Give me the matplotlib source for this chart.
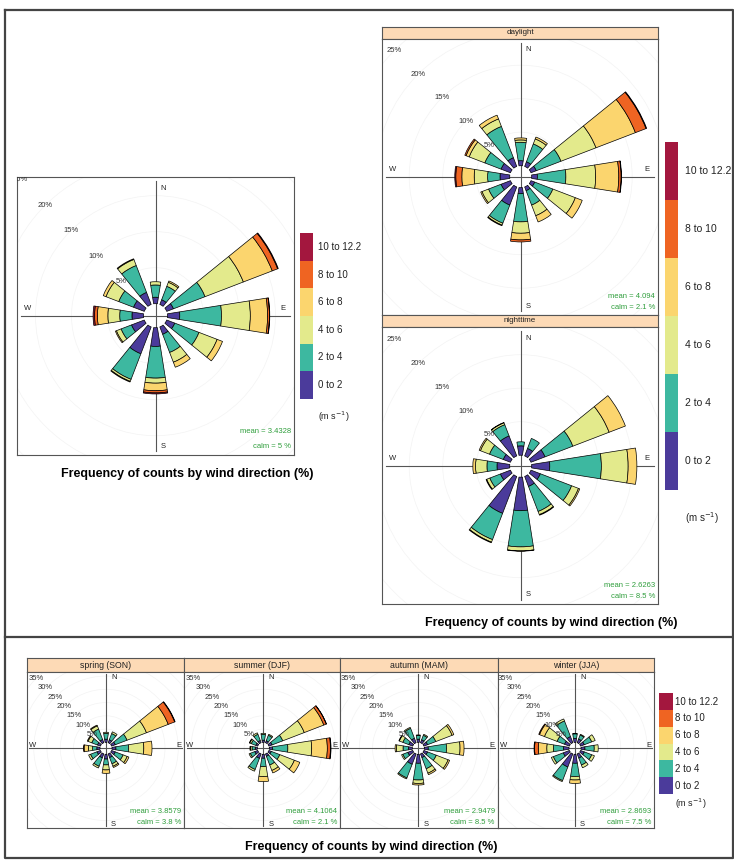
import matplotlib.pyplot as plt
from matplotlib.patches import Wedge, Circle

W, H = 734, 861
plt.rcParams['font.family'] = ['Liberation Sans', 'DejaVu Sans']

directions = [0, 30, 60, 90, 120, 150, 180, 210, 240, 270, 300, 330]
speed_labels = ['0 to 2', '2 to 4', '4 to 6', '6 to 8', '8 to 10', '10 to 12.2']

# % of counts per direction (rows) and speed class (columns)
rose_all = [
    [0.9, 1.7, 0.45, 0, 0, 0],
    [0.7, 2.0, 0.6, 0.2, 0, 0],
    [1.0, 4.7, 5.7, 4.3, 0.8, 0.1],
    [1.7, 5.8, 4.0, 2.4, 0.25, 0.05],
    [1.2, 3.6, 2.7, 0.8, 0, 0],
    [1.1, 2.7, 1.45, 0.75, 0, 0],
    [2.6, 4.4, 0.7, 1.05, 0.3, 0.15],
    [4.0, 3.8, 0.3, 0.1, 0, 0],
    [1.9, 1.55, 0.7, 0.15, 0, 0],
    [1.6, 1.7, 1.65, 1.45, 0.4, 0.2],
    [1.6, 2.2, 1.9, 0.4, 0, 0],
    [1.8, 4.0, 0.9, 0.1, 0, 0],
]
rose_daylight = [
    [0.75, 2.75, 0.35, 0.3, 0, 0],
    [0.75, 2.85, 0.8, 0.3, 0, 0],
    [0.85, 3.95, 5.6, 6.3, 1.7, 0.1],
    [0.85, 4.25, 4.45, 3.45, 0.35, 0.05],
    [0.6, 2.9, 3.6, 1.1, 0, 0],
    [0.6, 2.3, 1.7, 1.0, 0, 0],
    [0.9, 4.2, 1.7, 1.0, 0.3, 0],
    [2.9, 2.9, 0.3, 0.1, 0, 0],
    [1.5, 2.0, 1.05, 0.2, 0, 0],
    [1.45, 1.85, 2.0, 1.85, 0.9, 0.15],
    [1.5, 2.6, 2.5, 0.5, 0.2, 0],
    [1.4, 5.0, 1.2, 0.6, 0, 0],
]
rose_nighttime = [
    [1.4, 0.6, 0, 0, 0, 0],
    [1.2, 1.6, 0, 0, 0, 0],
    [2.25, 4.45, 5.8, 2.6, 0, 0],
    [2.7, 7.7, 4.0, 1.3, 0, 0],
    [1.5, 5.0, 1.1, 0.2, 0, 0],
    [1.6, 4.0, 0.5, 0.1, 0, 0],
    [5.0, 5.4, 0.6, 0.05, 0, 0],
    [5.9, 4.2, 0.4, 0.1, 0, 0],
    [1.6, 1.7, 0.5, 0.1, 0, 0],
    [1.9, 1.5, 1.7, 0.4, 0, 0],
    [1.15, 2.2, 1.45, 0.2, 0, 0],
    [3.2, 1.8, 0.3, 0.05, 0, 0],
]
rose_spring = [
    [1.2, 2.2, 0.4, 0, 0, 0],
    [1.2, 2.5, 0.7, 0, 0, 0],
    [1.5, 4.75, 7.85, 8.8, 2.6, 0.2],
    [1.5, 4.8, 5.7, 3.1, 0, 0],
    [1.5, 3.15, 1.65, 0.7, 0, 0],
    [1.5, 2.5, 1.0, 0.5, 0, 0],
    [1.8, 2.2, 1.9, 1.3, 0, 0],
    [1.6, 3.4, 0.7, 0, 0, 0],
    [1.4, 2.6, 0.75, 0, 0, 0],
    [1.2, 1.6, 1.6, 1.6, 0.2, 0],
    [1.2, 2.3, 1.5, 0.3, 0, 0],
    [1.3, 4.2, 1.3, 0.3, 0, 0],
]
rose_summer = [
    [0.8, 2.2, 0.4, 0, 0, 0],
    [0.8, 2.2, 0.4, 0, 0, 0],
    [1.3, 4.3, 8.7, 7.9, 1.0, 0.1],
    [1.2, 5.8, 9.0, 5.9, 1.2, 0.2],
    [1.0, 3.4, 5.9, 2.2, 0, 0],
    [1.0, 3.5, 2.2, 1.0, 0, 0],
    [1.5, 3.15, 3.75, 1.9, 0, 0],
    [1.8, 4.5, 0.7, 0, 0, 0],
    [1.2, 1.8, 0.5, 0, 0, 0],
    [0.8, 1.2, 0.6, 0.2, 0, 0],
    [0.8, 1.8, 0.6, 0.2, 0, 0],
    [0.9, 2.5, 0.6, 0, 0, 0],
]
rose_autumn = [
    [1.2, 1.4, 0.2, 0, 0, 0],
    [1.2, 1.8, 0.4, 0, 0, 0],
    [1.5, 3.3, 6.6, 0.7, 0, 0],
    [1.5, 6.9, 5.1, 1.5, 0, 0],
    [1.5, 3.5, 4.8, 0.6, 0, 0],
    [1.5, 4.5, 1.8, 0.6, 0, 0],
    [3.4, 6.3, 1.3, 0.6, 0, 0],
    [4.2, 5.5, 0.4, 0, 0, 0],
    [2.0, 2.0, 0.5, 0, 0, 0],
    [1.5, 2.0, 2.5, 0.5, 0, 0],
    [1.6, 2.4, 1.4, 0.2, 0, 0],
    [1.8, 4.0, 0.4, 0, 0, 0],
]
rose_winter = [
    [1.5, 1.7, 0.2, 0, 0, 0],
    [1.5, 1.6, 0.3, 0, 0, 0],
    [1.5, 3.0, 1.4, 0, 0, 0],
    [1.5, 3.5, 1.5, 0, 0, 0],
    [1.5, 3.0, 1.1, 0, 0, 0],
    [1.7, 2.8, 1.1, 0, 0, 0],
    [3.4, 5.0, 1.3, 1.3, 0, 0],
    [5.3, 5.5, 0.4, 0, 0, 0],
    [2.5, 4.0, 0.8, 0, 0, 0],
    [2.1, 3.8, 2.5, 3.2, 1.4, 0.2],
    [2.0, 3.0, 5.1, 2.0, 0.3, 0],
    [2.5, 6.3, 0.8, 0, 0, 0],
]

daynight_names = ['daylight', 'nighttime']
daynight_mean = [4.094, 2.6263]
daynight_calm = [2.1, 8.5]
season_names = ['spring (SON)', 'summer (DJF)', 'autumn (MAM)', 'winter (JJA)']
season_mean = [3.8579, 4.1064, 2.9479, 2.8693]
season_calm = [3.8, 2.1, 8.5, 7.5]
all_mean = 3.4328
all_calm = 5

colours = ['#4b3b9b', '#3db8a0', '#e3ea8c', '#fbd56e', '#ef6422', '#a3173e']
green = '#2f9e3c'
frame = '#555555'
title = 'Frequency of counts by wind direction (%)'


def px_axes(fig, x0, y0, x1, y1):
    return fig.add_axes([x0 / W, 1 - y1 / H, (x1 - x0) / W, (y1 - y0) / H])


def wind_rose(fig, box, centre, scale, hole, data, grid_max, mean, calm,
              pad, ew_up, stat_dy):
    x0, y0, x1, y1 = box
    cx, cy = centre
    ax = px_axes(fig, x0, y0, x1, y1)
    ax.set_xlim((x0 - cx) / scale, (x1 - cx) / scale)
    ax.set_ylim((cy - y1) / scale, (cy - y0) / scale)
    ax.set_xticks([])
    ax.set_yticks([])
    for s in ax.spines.values():
        s.set_color(frame)
        s.set_linewidth(0.8)

    def pos(px, py):
        return (px - cx) / scale, (cy - py) / scale

    for p in range(5, grid_max + 1, 5):
        ax.add_patch(Circle((0, 0), hole + p, fill=False, ec='#f3f3f3', lw=0.5, zorder=1))
    ax.axhline(0, 0.015, 0.985, color=frame, lw=0.8, zorder=2)
    ax.axvline(0, 0.015, 0.985, color=frame, lw=0.8, zorder=2)

    for i, d in enumerate(directions):
        r = hole
        for j, v in enumerate(data[i]):
            if v <= 0:
                continue
            ax.add_patch(Wedge((0, 0), r + v, 90 - d - 9, 90 - d + 9, width=v,
                               fc=colours[j], ec='black', lw=0.5, zorder=3))
            r += v

    for p in range(5, grid_max + 1, 5):
        r = (hole + p) * 0.7071
        ax.text(-r, r, f'{p}%', ha='center', va='center', fontsize=5.5,
                color='#333333', zorder=4, clip_on=True)

    ax.text(*pos(cx + 5, y0 + pad), 'N', fontsize=5.5, va='center', color='#222222')
    ax.text(*pos(cx + 5, y1 - pad + 2), 'S', fontsize=5.5, va='center', color='#222222')
    ax.text(*pos(x0 + pad, cy - ew_up), 'W', fontsize=5.5, ha='center', va='center', color='#222222')
    ax.text(*pos(x1 - pad, cy - ew_up), 'E', fontsize=5.5, ha='center', va='center', color='#222222')

    ax.text(*pos(x1 - 3, y1 - stat_dy[0]), f'mean = {mean}', fontsize=5.5,
            ha='right', va='center', color=green)
    ax.text(*pos(x1 - 3, y1 - stat_dy[1]), f'calm = {calm:g} %', fontsize=5.5,
            ha='right', va='center', color=green)
    return ax


def strip(fig, box, label, fs):
    ax = px_axes(fig, *box)
    ax.set_facecolor('#fddab6')
    ax.set_xticks([])
    ax.set_yticks([])
    for s in ax.spines.values():
        s.set_color(frame)
        s.set_linewidth(0.8)
    ax.text(0.5, 0.5, label, ha='center', va='center', fontsize=fs,
            transform=ax.transAxes, color='#222222')


def speed_key(fig, box, label_x, unit_y, fs):
    x0, y0, x1, y1 = box
    ax = px_axes(fig, x0, y0, x1, y1)
    ax.bar([0] * len(speed_labels), [1] * len(speed_labels), width=1,
           bottom=list(range(len(speed_labels))), color=colours)
    ax.set_xlim(-0.5, 0.5)
    ax.set_ylim(0, len(speed_labels))
    ax.axis('off')
    step = (y1 - y0) / len(speed_labels)
    for j, lab in enumerate(speed_labels):
        fig.text(label_x / W, 1 - (y1 - (j + 0.5) * step) / H, lab,
                 fontsize=fs, va='center', color='#222222')
    fig.text(label_x / W, 1 - unit_y / H, '(m s$^{-1}$)', fontsize=fs - 0.5,
             va='center', color='#222222')


def main():
    fig = plt.figure(figsize=(W / 100, H / 100), dpi=100)

    back = fig.add_axes([0, 0, 1, 1])
    back.set_xlim(0, W)
    back.set_ylim(H, 0)
    back.axis('off')
    back.plot([5, 5, 732.5, 732.5, 5], [10, 858, 858, 10, 10], color='#444444', lw=1.6)
    back.plot([5, 732.5], [637, 637], color='#444444', lw=1.6)

    # all data
    wind_rose(fig, (16.7, 177.3, 294, 455), (155.5, 315.7), 7.2, 1.67, rose_all, 25,
              all_mean, all_calm, 11, 7.5, (23, 9))
    speed_key(fig, (300, 233, 313, 399), 318, 417, 7)
    fig.text(187.5 / W, 1 - 474 / H, title, ha='center', va='center',
             fontsize=9, fontweight='bold')

    # daylight / nighttime
    boxes = [(382, 38.5, 658, 315), (382, 327, 658, 604)]
    strips = [(382, 27, 658, 38.5), (382, 315, 658, 327)]
    centres = [(520.7, 176.7), (520.7, 466.2)]
    roses = [rose_daylight, rose_nighttime]
    for k in range(2):
        strip(fig, strips[k], daynight_names[k], 5.8)
        wind_rose(fig, boxes[k], centres[k], 6.7, 1.64, roses[k], 25,
                  daynight_mean[k], daynight_calm[k], 11, 7.5, (18.3, 7.7))
    speed_key(fig, (665, 141.7, 678, 490), 685, 518, 7.5)
    fig.text(550.8 / W, 1 - 623.3 / H, title, ha='center', va='center',
             fontsize=9, fontweight='bold')

    # seasons
    edges = [26.7, 184.3, 340, 497.7, 654.3]
    centres_x = [106, 263.3, 418.3, 575]
    season_roses = [rose_spring, rose_summer, rose_autumn, rose_winter]
    for k in range(4):
        strip(fig, (edges[k], 658, edges[k + 1], 672), season_names[k], 6.3)
        wind_rose(fig, (edges[k], 672, edges[k + 1], 828), (centres_x[k], 748.3),
                  2.65, 2.26, season_roses[k], 35, season_mean[k], season_calm[k],
                  5.5, 2.5, (16.3, 5.3))
    speed_key(fig, (659.3, 693.3, 672.7, 794), 675, 804, 7)
    fig.text(371 / W, 1 - 846.7 / H, title, ha='center', va='center',
             fontsize=9, fontweight='bold')

    fig.savefig('out.png', dpi=100)


if __name__ == '__main__':
    main()
